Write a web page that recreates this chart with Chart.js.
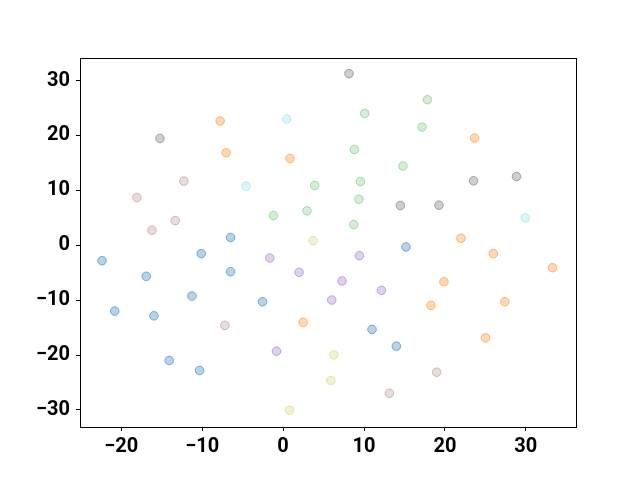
<!DOCTYPE html>
<html>
<head>
<meta charset="utf-8">
<script src="https://cdn.jsdelivr.net/npm/chart.js@4/dist/chart.umd.min.js"></script>
<style>
  html, body { margin: 0; padding: 0; background: #fff; }
  #wrap { width: 640px; height: 480px; }
</style>
</head>
<body>
<div id="wrap"><canvas id="scatter"></canvas></div>
<script>
// point groups (x, y)
const blueX = [-6.49, 15.19, -22.38, -10.12, -16.91, -6.49, -11.27, -2.54, -20.81, -15.96, -14.07, -10.32, 10.99, 14.0];
const blueY = [1.42, -0.31, -2.81, -1.53, -5.66, -4.82, -9.25, -10.29, -11.99, -12.85, -20.99, -22.81, -15.33, -18.38];

const orangeX = [-7.78, -7.04, 0.86, 23.67, 21.98, 25.98, 33.30, 19.88, 18.27, 27.41, 25.02, 2.47];
const orangeY = [22.63, 16.84, 15.80, 19.53, 1.28, -1.53, -4.09, -6.64, -10.95, -10.29, -16.86, -14.05];

const greenX = [17.83, 10.09, 17.16, 8.81, 14.81, 9.56, 9.38, 8.73, 3.91, 2.96, -1.19];
const greenY = [26.51, 24.01, 21.53, 17.45, 14.42, 11.61, 8.39, 3.76, 10.88, 6.26, 5.40];

const purpleX = [-1.64, 1.98, 9.43, 7.28, 12.15, 6.01, -0.81];
const purpleY = [-2.32, -4.93, -1.90, -6.51, -8.21, -9.98, -19.29];

const brownX = [-12.26, -18.06, -13.33, -16.21, -7.20, 18.98, 13.14];
const brownY = [11.68, 8.69, 4.49, 2.74, -14.60, -23.12, -26.95];

const grayX = [-15.22, 8.15, 23.54, 28.85, 14.49, 19.26];
const grayY = [19.45, 31.26, 11.73, 12.52, 7.23, 7.30];

const oliveX = [3.70, 6.26, 5.89, 0.79];
const oliveY = [0.84, -19.96, -24.64, -30.05];

const cyanX = [0.46, -4.57, 29.93];
const cyanY = [22.99, 10.77, 4.98];

const xTicks = [-20, -10, 0, 10, 20, 30];
const yTicks = [-30, -20, -10, 0, 10, 20, 30];

function pts(xs, ys) {
  return xs.map((x, i) => ({ x: x, y: ys[i] }));
}

function group(xs, ys, rgb, a) {
  return {
    data: pts(xs, ys),
    backgroundColor: `rgba(${rgb},${a})`,
    borderColor: `rgba(${rgb},${Math.min(1, a * 1.7)})`,
    borderWidth: 1,
    pointRadius: 4.3,
    pointHoverRadius: 4.3
  };
}

// black box round the plot area
const frame = {
  id: 'frame',
  afterDraw(chart) {
    const a = chart.chartArea, ctx = chart.ctx;
    ctx.save();
    ctx.strokeStyle = '#000';
    ctx.lineWidth = 1;
    ctx.strokeRect(Math.round(a.left) + 0.5, Math.round(a.top) + 0.5,
      Math.round(a.right - a.left), Math.round(a.bottom - a.top));
    ctx.restore();
  }
};

const tickFont = { family: 'Roboto', weight: 'bold', size: 20 };

new Chart(document.getElementById('scatter'), {
  type: 'scatter',
  data: {
    datasets: [
      group(blueX, blueY, '31,119,180', 0.32),
      group(orangeX, orangeY, '255,127,14', 0.3),
      group(greenX, greenY, '44,160,44', 0.2),
      group(purpleX, purpleY, '148,103,189', 0.3),
      group(brownX, brownY, '140,86,75', 0.2),
      group(grayX, grayY, '127,127,127', 0.38),
      group(oliveX, oliveY, '188,189,34', 0.2),
      group(cyanX, cyanY, '23,190,207', 0.15)
    ]
  },
  options: {
    responsive: true,
    maintainAspectRatio: false,
    animation: false,
    layout: { padding: { top: 58, right: 64, left: 0, bottom: 0 } },
    plugins: { legend: { display: false }, tooltip: { enabled: false } },
    scales: {
      x: {
        type: 'linear',
        min: -25.1,
        max: 36.2,
        afterBuildTicks(axis) { axis.ticks = xTicks.map(v => ({ value: v })); },
        afterFit(axis) { axis.height = 53; },
        grid: { drawOnChartArea: false, drawTicks: true, tickLength: 4, tickColor: '#000' },
        border: { display: true, color: '#000', width: 1 },
        ticks: { color: '#000', font: tickFont, padding: 4, maxRotation: 0,
          callback: v => String(v).replace('-', '\u2212') }
      },
      y: {
        type: 'linear',
        min: -33.1,
        max: 34.1,
        afterBuildTicks(axis) { axis.ticks = yTicks.map(v => ({ value: v })); },
        afterFit(axis) { axis.width = 80; },
        grid: { drawOnChartArea: false, drawTicks: true, tickLength: 4, tickColor: '#000' },
        border: { display: true, color: '#000', width: 1 },
        ticks: { color: '#000', font: tickFont, padding: 6,
          callback: v => String(v).replace('-', '\u2212') }
      }
    }
  },
  plugins: [frame]
});
</script>
</body>
</html>
